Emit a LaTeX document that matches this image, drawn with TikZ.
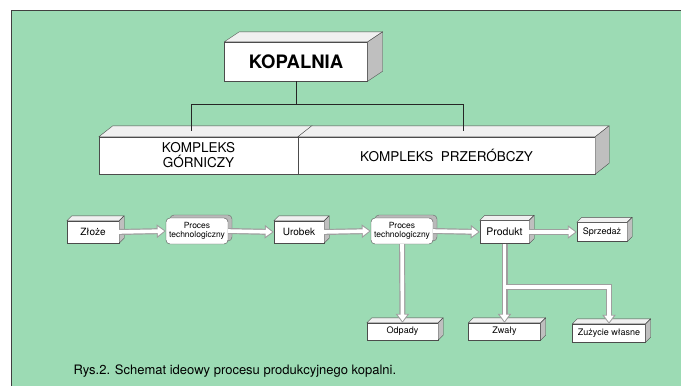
\documentclass[tikz,border=0pt]{standalone}
\usepackage{fontspec}
\setmainfont{TeX Gyre Heros}
\usetikzlibrary{arrows.meta,shadows}

\definecolor{mint}{RGB}{156,219,180}

% top and right face of a box drawn as a node
\newcommand{\boxfaces}[3]{%
\filldraw[fill=gray!12,draw=black!70,line join=round] (#1.north west) -- ++(#2,-#3) -- ([shift={(#2,-#3)}]#1.north east) -- (#1.north east) -- cycle;
\filldraw[fill=gray!50,draw=black!70,line join=round] (#1.north east) -- ++(#2,-#3) -- ([shift={(#2,-#3)}]#1.south east) -- (#1.south east) -- cycle;
}

\begin{document}
\begin{tikzpicture}[x=1pt,y=-1pt,blk/.style={draw=black!70,fill=white,inner sep=0pt,align=center},big/.style={blk,font=\fontsize{13.5}{15}\selectfont},small/.style={blk,font=\fontsize{9}{10}\selectfont},proc/.style={blk,rounded corners=4pt,minimum width=62pt,minimum height=26pt,font=\fontsize{8.5}{9}\selectfont,drop shadow={shadow xshift=4pt,shadow yshift=3pt,fill=gray!55,draw=black!60,opacity=1}},pipeout/.style={draw=gray!75,line width=6pt,-{Triangle[length=9pt,width=13pt]}},pipein/.style={draw=white,line width=3.6pt,-{Triangle[length=6.5pt,width=9pt]},shorten >=1.6pt},pipe/.style={pipeout,postaction={pipein}}]
\def\dx{14};
\def\dy{11};
\def\sx{5};
\def\sy{5};
\def\row{232};
\def\low{331.5};

\useasboundingbox (0,0) rectangle (681,386);
\fill[mint] (11,10) rectangle (681,386);
\draw[black!75,line width=1pt] (11,386) -- (11,10) -- (681,10);

\node[blk,minimum width=143pt,minimum height=39pt,font=\fontsize{18.5}{20}\bfseries] (kop) at (296,61.5) {KOPALNIA};
\boxfaces{kop}{15}{10}

\node[big,minimum width=199pt,minimum height=37pt] (gor) at (198.5,155.5) {KOMPLEKS\\GÓRNICZY};
\boxfaces{gor}{\dx}{\dy}
\node[big,minimum width=297pt,minimum height=37pt] (prz) at (446.5,155.5) {KOMPLEKS\ \ PRZERÓBCZY};
\boxfaces{prz}{\dx}{\dy}

\coordinate (hub) at (296,104);
\coordinate (gin) at (191,131);
\coordinate (pin) at (463,131);
\draw[black!85,line width=0.8pt] (kop.south) -- (hub);
\draw[black!85,line width=0.8pt] (hub) -| (gin);
\draw[black!85,line width=0.8pt] (hub) -| (pin);

\node[small,minimum width=52pt,minimum height=22pt,font=\fontsize{10}{11}\selectfont] (zloze) at (93,\row) {Złoże};
\boxfaces{zloze}{\sx}{\sy}
\node[proc] (proc1) at (197,231) {Proces\\technologiczny};
\node[small,minimum width=50pt,minimum height=22pt,font=\fontsize{10}{11}\selectfont] (urobek) at (299,\row) {Urobek};
\boxfaces{urobek}{\sx}{\sy}
\node[proc] (proc2) at (402,231) {Proces\\technologiczny};
\node[small,minimum width=49pt,minimum height=23pt,font=\fontsize{10.5}{11}\selectfont] (prod) at (504.5,\row) {Produkt};
\boxfaces{prod}{\sx}{\sy}
\node[small,minimum width=50pt,minimum height=19pt] (sprz) at (602,\row) {Sprzedaż};
\boxfaces{sprz}{\sx}{\sy}

\node[small,minimum width=71pt,minimum height=17pt] (odp) at (402.5,\low) {Odpady};
\boxfaces{odp}{\sx}{\sy}
\node[small,minimum width=72pt,minimum height=17pt] (zwaly) at (504.5,\low) {Zwały};
\boxfaces{zwaly}{\sx}{\sy}
\node[small,minimum width=73pt,minimum height=18pt] (zuz) at (609,333) {Zużycie własne};
\boxfaces{zuz}{\sx}{\sy}

\draw[pipe] (zloze.east) -- (proc1.west);
\draw[pipe] (proc1.east) -- (urobek.west);
\draw[pipe] (urobek.east) -- (proc2.west);
\draw[pipe] (proc2.east) -- (prod.west);
\draw[pipe] (prod.east) -- (sprz.west);
\draw[pipe] (proc2.south) -- (odp.north);

\coordinate (br) at (504.5,287);
\draw[pipeout] (br) -| (zuz.north);
\draw[pipe] (prod.south) -- (zwaly.north);
\draw[pipein] (br) -| (zuz.north);

\node[anchor=base west,font=\fontsize{13}{15}\selectfont] (cap) at (70,374) {Rys.2. Schemat ideowy procesu produkcyjnego kopalni.};
\end{tikzpicture}
\end{document}
